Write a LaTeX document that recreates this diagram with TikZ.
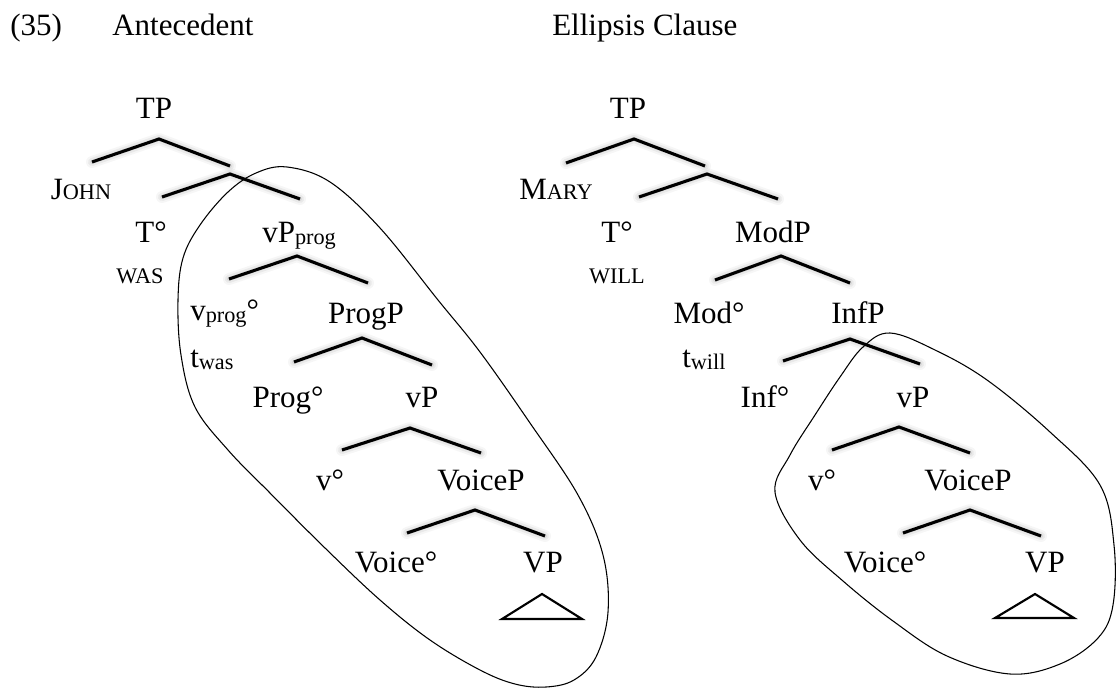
\documentclass[tikz,border=0pt]{standalone}
\usepackage{fontspec}
\setmainfont{Liberation Serif}
\newcommand\mainsz{\fontsize{23.25pt}{28pt}\selectfont}
\newcommand\smallsz{\fontsize{16.7pt}{20pt}\selectfont}
\newcommand\mysc[1]{{\smallsz #1}}
\newcommand\mysub[1]{\raisebox{-1.5pt}{\smallsz #1}}
\begin{document}
\begin{tikzpicture}[x=0.75pt,y=-0.75pt,
  lab/.style={font=\mainsz, anchor=base, inner sep=0pt},
  br/.style={line width=2.3pt, line join=miter, line cap=butt},
  shd/.style={line cap=round, line join=round, black},
  loopline/.style={line width=0.8pt},
  tri/.style={line width=1.6pt, line join=miter}]
\useasboundingbox (0,0) rectangle (1118,689);

% headers
\node[lab, anchor=base west] (num) at (10,35) {(35)};
\node[lab, anchor=base west] (ant) at (112,35) {Antecedent};
\node[lab, anchor=base west] (ell) at (552,35) {Ellipsis Clause};

% branch coordinates: name / apex / left / right
\foreach \n/\ax/\ay/\lx/\ly/\rx/\ry in {
  la/159/139/92/162/230/166,
  lb/230/174/162/197/300/199,
  lc/297/256/229/279/368/283,
  ld/362/338/294/362/432/365,
  le/410/428/342/450/481/453,
  lf/475/510/407/533/545/536,
  ra/634/139/566/163/705/166,
  rb/707/174/639/197/778/199,
  rc/781/256/715/280/850/283,
  rd/850/339/783/361/920/364,
  re/899/427/832/450/970/453,
  rf/970/510/903/533/1041/536}{
  \coordinate (\n A) at (\ax,\ay);
  \coordinate (\n L) at (\lx,\ly);
  \coordinate (\n R) at (\rx,\ry);
  \begin{scope}[yshift=-4.5pt]
    \draw[shd, line width=9pt, opacity=0.035] (\n L) -- (\n A) -- (\n R);
    \draw[shd, line width=6pt, opacity=0.05] (\n L) -- (\n A) -- (\n R);
    \draw[shd, line width=3pt, opacity=0.06] (\n L) -- (\n A) -- (\n R);
  \end{scope}
  \draw[br] (\n L) -- (\n A) -- (\n R);
}

% triangles
\coordinate (ltA) at (542,594); \coordinate (ltL) at (502,619); \coordinate (ltR) at (582,619);
\coordinate (rtA) at (1035,594); \coordinate (rtL) at (995,618); \coordinate (rtR) at (1074,618);
\draw[tri] (ltA) -- (ltL) -- (ltR) -- cycle;
\draw[tri] (rtA) -- (rtL) -- (rtR) -- cycle;

% left tree labels
\node[lab] (lTP) at (154,118) {TP};
\node[lab] (lJohn) at (81,199) {J\mysc{OHN}};
\node[lab] (lT) at (151,242) {T°};
\node[lab] (lWas) at (140,283) {\mysc{WAS}};
\node[lab, anchor=base west] (lvPprog) at (262,242) {vP\mysub{prog}};
\node[lab, anchor=base west] (lvprog) at (190,320) {v\mysub{prog}°};
\node[lab, anchor=base west] (ltwas) at (190,367) {t\mysub{was}};
\node[lab] (lProgP) at (366,323) {ProgP};
\node[lab] (lProg) at (288,407) {Prog°};
\node[lab] (lvP) at (422,407) {vP};
\node[lab] (lv) at (330,490) {v°};
\node[lab] (lVoiceP) at (481,490) {VoiceP};
\node[lab] (lVoice) at (396,572) {Voice°};
\node[lab] (lVP) at (543,572) {VP};

% right tree labels
\node[lab] (rTP) at (628,118) {TP};
\node[lab] (rMary) at (556,199) {M\mysc{ARY}};
\node[lab] (rT) at (617,242) {T°};
\node[lab] (rWill) at (617,283) {\mysc{WILL}};
\node[lab] (rModP) at (773,242) {ModP};
\node[lab] (rMod) at (709,323) {Mod°};
\node[lab, anchor=base west] (rtwill) at (682,367) {t\mysub{will}};
\node[lab] (rInfP) at (858,323) {InfP};
\node[lab] (rInf) at (765,407) {Inf°};
\node[lab] (rvP) at (913,407) {vP};
\node[lab] (rv) at (822,490) {v°};
\node[lab] (rVoiceP) at (968,490) {VoiceP};
\node[lab] (rVoice) at (885,572) {Voice°};
\node[lab] (rVP) at (1045,572) {VP};

% ellipsis loops
\draw[loopline] plot[smooth cycle, tension=0.6] coordinates {
  (287,167) (330,182) (380,228) (438,300) (480,352) (530,423) (578,495)
  (603,555) (608,612) (596,657) (574,680) (546,687) (515,684) (480,670)
  (430,640) (380,600) (325,548) (270,493) (228,450) (195,407) (181,355)
  (178,300) (183,258) (200,225) (228,192) (256,173)};
\draw[loopline] plot[smooth cycle, tension=0.6] coordinates {
  (890,333) (935,350) (987,380) (1050,432) (1100,485) (1114,545)
  (1113,605) (1098,638) (1060,664) (1010,674) (947,656) (893,621)
  (843,581) (800,540) (775,492) (790,455) (815,415) (840,377) (863,347)};
\end{tikzpicture}
\end{document}
